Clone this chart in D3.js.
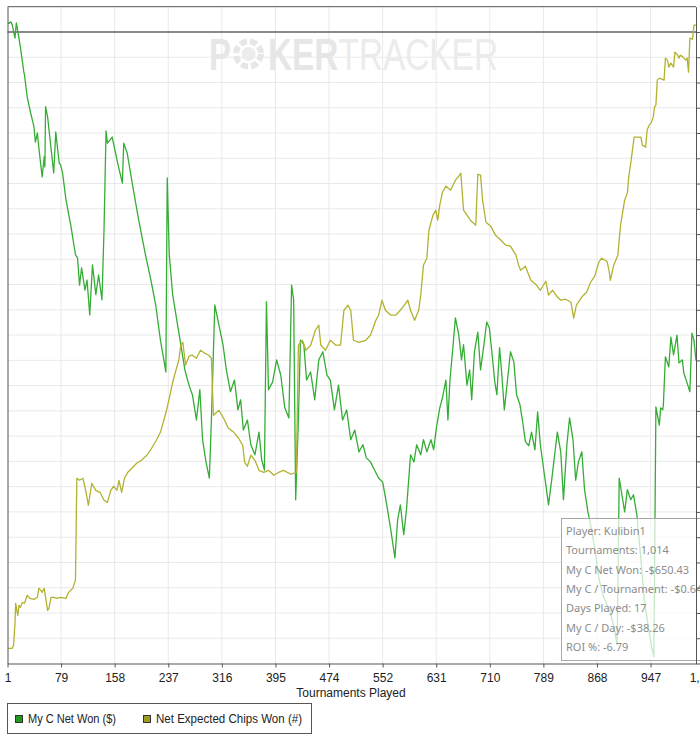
<!DOCTYPE html>
<html><head><meta charset="utf-8">
<script src="https://cdn.jsdelivr.net/npm/d3@7"></script>
<style>html,body{margin:0;padding:0;background:#fff;} svg{display:block;}</style>
</head><body>
<svg id="chart" width="700" height="737"></svg>
<script>
// ---- Data ----
const netTournament = [1,3,6,8,12,14,16,20,25,26,30,35,40,42,45,47,52,55,56,57,60,69,72,77,79,82,87,94,101,104,107,110,115,118,122,126,131,135,140,143,146,148,155,163,170,172,177,185,194,204,212,219,226,231,234,236,239,244,250,256,262,268,273,279,284,288,293,298,301,306,312,318,323,329,335,340,344,348,354,359,365,371,375,379,382,385,391,397,403,409,415,419,422,425,429,432,437,441,447,453,459,465,471,476,482,488,494,500,506,512,518,524,529,535,541,547,553,559,565,571,575,579,584,588,594,599,603,609,613,618,624,628,632,637,641,646,649,652,656,660,665,669,672,677,681,684,688,693,697,702,706,710,713,718,721,725,728,732,737,741,746,750,755,759,763,768,772,777,781,785,790,794,797,802,806,810,815,819,824,828,833,837,841,846,850,855,859,865,871,877,883,888,894,898,901,905,909,913,918,922,927,933,938,944,949,952,955,960,962,965,966,969,974,977,981,986,989,994,996,1001,1005,1008,1011,1014];
const netWon = [18,17,20,14,-12,18,2,-30,-79,-85,-129,-160,-188,-218,-200,-228,-287,-247,-267,-148,-168,-279,-198,-259,-263,-279,-332,-382,-441,-447,-501,-467,-511,-491,-560,-461,-520,-481,-530,-392,-196,-220,-208,-259,-299,-220,-239,-303,-372,-441,-491,-540,-610,-649,-673,-289,-441,-520,-570,-619,-669,-699,-718,-768,-708,-807,-851,-883,-768,-540,-580,-619,-669,-712,-689,-748,-728,-788,-768,-817,-837,-792,-847,-867,-534,-708,-693,-649,-679,-744,-764,-501,-530,-926,-768,-610,-619,-689,-673,-728,-649,-633,-679,-689,-748,-699,-768,-748,-807,-788,-831,-817,-843,-851,-867,-883,-891,-936,-986,-1041,-966,-936,-995,-946,-837,-851,-817,-837,-807,-831,-807,-827,-784,-744,-724,-689,-768,-689,-629,-566,-600,-649,-619,-699,-669,-728,-633,-594,-669,-619,-574,-586,-625,-693,-718,-625,-673,-748,-685,-633,-653,-718,-738,-772,-811,-819,-792,-827,-752,-817,-867,-906,-936,-883,-837,-792,-831,-926,-817,-764,-807,-887,-851,-831,-906,-950,-976,-1021,-1081,-1114,-1134,-1148,-1183,-1213,-883,-916,-950,-906,-926,-916,-956,-1045,-1124,-1179,-1219,-1237,-742,-778,-744,-748,-738,-643,-663,-604,-639,-600,-655,-649,-675,-695,-712,-596,-610,-650.43];

const chipsTournament = [1,8,10,12,13,16,18,20,23,26,30,34,40,45,47,50,52,55,57,60,62,65,69,74,79,87,91,97,101,103,107,112,116,120,125,131,137,143,148,153,157,162,165,169,173,178,184,191,198,206,213,220,226,231,235,240,244,248,253,256,259,263,268,273,279,285,291,297,301,304,312,319,326,334,341,347,350,354,359,365,371,378,385,393,400,407,418,426,429,435,440,447,454,459,462,469,476,484,491,496,502,506,510,518,528,535,543,547,552,557,565,572,579,585,590,594,600,606,609,613,618,621,627,631,634,637,641,646,653,660,665,668,672,677,682,690,693,697,700,705,712,719,727,734,741,749,753,756,763,771,778,785,793,797,803,809,815,822,830,834,838,843,847,853,859,865,871,875,883,886,888,893,899,903,909,913,915,918,923,933,935,940,942,945,948,951,953,955,957,960,967,969,972,974,977,981,983,987,989,991,995,999,1001,1003,1005,1009,1011,1014];
const chipsWon = [0,0,300,2480,4460,3270,4260,4060,4550,4460,5250,4950,4850,5050,5940,5740,5540,5940,5050,3760,3960,5050,5050,4950,5050,4950,5540,5940,6730,16830,16630,16830,15640,14160,16340,15640,15440,14650,14450,15640,16040,15640,16630,15440,16830,17420,17820,18320,18610,19110,19800,20590,21380,22570,23560,25050,26330,27320,28510,30000,30290,28020,28910,29010,28710,29500,29210,29010,28710,23070,23560,22770,21780,21380,20790,20100,18410,18020,19110,18610,17620,17420,17620,17130,17420,17620,17230,17420,30000,30490,29500,30000,31480,31980,30000,29500,30490,30000,30000,33460,33960,33460,30490,30290,30490,30990,32470,32970,34450,33460,32970,32970,33460,33960,34450,33460,32470,33460,34950,37920,38610,41380,42870,43360,42370,43860,45140,45740,45340,46330,46730,47030,43360,42870,42370,41880,46930,46830,44350,42170,41780,40890,40390,39900,39800,38910,37920,37420,37820,36430,36040,35440,36330,34950,35440,34850,34450,34550,34250,32670,33960,34450,34850,35240,36230,36830,38210,38610,38310,37420,36430,37920,38910,41880,44350,45050,46630,48020,50590,50590,49800,49600,51280,51780,51980,52570,53560,53760,56230,56430,56230,58410,58210,57520,57920,57520,59000,58710,58410,58710,58510,58210,58410,57020,60390,60290,61680,61680];

const xTickLabels = ["1","79","158","237","316","395","474","552","631","710","789","868","947","1,026"];
const xTickValues = xTickLabels.map((_, k) => 1 + k * 1025 / 13);
const seriesNames = ["My C Net Won ($)", "Net Expected Chips Won (#)"];
const seriesColors = ["#35ad35", "#b2b232"];
const legendColors = ["#1f9a1f", "#9c9c22"];
const tooltipLines = ["Player: Kulibin1", "Tournaments: 1,014", "My C Net Won: -$650.43",
  "My C / Tournament: -$0.64", "Days Played: 17", "My C / Day: -$38.26", "ROI %: -6.79"];
const xTitle = "Tournaments Played";

// ---- Layout ----
const L = 7.5, R = 696, T = 6.7, B = 663.5;
const svg = d3.select("#chart");
const x = d3.scaleLinear().domain([1, 1014]).range([L, R]);
const yLeft = d3.scaleLinear().domain([-1250, 50]).range([B, T]);
const yRight = d3.scaleLinear().domain([-1500, 63500]).range([B, T]);
const FONT = "'Liberation Sans', Arial, sans-serif";

svg.append("rect").attr("width", 700).attr("height", 737).attr("fill", "#fff");

// grid
const g = svg.append("g");
g.selectAll("line.h").data(d3.range(-1200, 50, 50)).join("line")
  .attr("x1", L).attr("x2", R).attr("y1", d => yLeft(d)).attr("y2", d => yLeft(d))
  .attr("stroke", "#e9e9e9").attr("stroke-width", 1);
g.selectAll("line.v").data(xTickValues.slice(1)).join("line")
  .attr("y1", T).attr("y2", B).attr("x1", d => x(d)).attr("x2", d => x(d))
  .attr("stroke", "#e9e9e9").attr("stroke-width", 1);

// watermark
const wm = svg.append("g").attr("fill", "#e6e6e6").attr("font-family", FONT).attr("font-size", 44);
wm.append("text").attr("x", 209).attr("y", 70).attr("font-weight", "bold").text("P")
  .attr("textLength", 22).attr("lengthAdjust", "spacingAndGlyphs");
wm.append("circle").attr("cx", 248.5).attr("cy", 54).attr("r", 12.5).attr("fill", "none")
  .attr("stroke", "#e6e6e6").attr("stroke-width", 6).attr("stroke-dasharray", "7 3");
wm.append("circle").attr("cx", 248.5).attr("cy", 54).attr("r", 7).attr("fill", "#ececec");
const wmText = wm.append("text").attr("x", 268).attr("y", 70)
  .attr("textLength", 230).attr("lengthAdjust", "spacingAndGlyphs");
wmText.append("tspan").attr("font-weight", "bold").text("KER");
wmText.append("tspan").attr("fill", "#ebebeb").text("TRACKER");

// zero line
svg.append("line").attr("x1", L).attr("x2", R).attr("y1", yLeft(0)).attr("y2", yLeft(0))
  .attr("stroke", "#666").attr("stroke-width", 1.6);

// clip
svg.append("clipPath").attr("id", "plot").append("rect")
  .attr("x", L).attr("y", T).attr("width", R - L).attr("height", B - T);

const lines = svg.append("g").attr("clip-path", "url(#plot)");
const netData = netTournament.map((t, i) => [t, netWon[i]]);
const chipData = chipsTournament.map((t, i) => [t, chipsWon[i]]);
lines.append("path").datum(netData)
  .attr("d", d3.line().x(d => x(d[0])).y(d => yLeft(d[1])))
  .attr("fill", "none").attr("stroke", seriesColors[0]).attr("stroke-width", 1.3).attr("stroke-linejoin", "round");
lines.append("path").datum(chipData)
  .attr("d", d3.line().x(d => x(d[0])).y(d => yRight(d[1])))
  .attr("fill", "none").attr("stroke", seriesColors[1]).attr("stroke-width", 1.3).attr("stroke-linejoin", "round");

// tooltip box
const tip = svg.append("g");
tip.append("rect").attr("x", 561.5).attr("y", 518.5).attr("width", 150).attr("height", 142)
  .attr("fill", "#fff").attr("fill-opacity", 0.72).attr("stroke", "#a8a8a8").attr("stroke-width", 1);
tip.selectAll("text").data(tooltipLines).join("text")
  .attr("x", 566).attr("y", (d, i) => 535 + i * 19.3)
  .attr("font-family", "'Noto Sans', 'Open Sans', sans-serif").attr("font-size", 11)
  .attr("fill", "#8c8c8c").text(d => d);

// axes
const axisColor = "#555";
const xAxis = svg.append("g").attr("transform", `translate(0,${B})`)
  .call(d3.axisBottom(x).tickValues(xTickValues).tickFormat((d, i) => xTickLabels[i]).tickSize(4).tickSizeOuter(0));
xAxis.selectAll("text").attr("font-family", FONT).attr("font-size", 12).attr("fill", "#222").attr("dy", "0.95em");
xAxis.selectAll("line").attr("stroke", axisColor);
xAxis.select(".domain").attr("stroke", axisColor);

const lAxis = svg.append("g").attr("transform", `translate(${L},0)`)
  .call(d3.axisLeft(yLeft).tickValues([]).tickSizeOuter(0));
lAxis.select(".domain").attr("stroke", axisColor);

const rTicks = d3.range(26).map(k => -1500 + 2500 * k);
const rAxis = svg.append("g").attr("transform", `translate(${R},0)`)
  .call(d3.axisRight(yRight).tickValues(rTicks).tickFormat("").tickSize(5).tickSizeOuter(0));
rAxis.select(".domain").attr("stroke", axisColor);
rAxis.selectAll("line").attr("stroke", axisColor);

// top border
svg.append("line").attr("x1", L).attr("x2", R).attr("y1", T).attr("y2", T).attr("stroke", axisColor);

// x title
svg.append("text").attr("x", 351).attr("y", 697).attr("text-anchor", "middle")
  .attr("font-family", FONT).attr("font-size", 12).attr("fill", "#222").text(xTitle);

// legend
const leg = svg.append("g");
leg.append("rect").attr("x", 7.5).attr("y", 703.5).attr("width", 304).attr("height", 30)
  .attr("fill", "#fff").attr("stroke", "#555");
const legX = [15.5, 143.5], legTX = [28, 156], legW = [88, 146];
seriesNames.forEach((name, i) => {
  leg.append("rect").attr("x", legX[i]).attr("y", 715.5).attr("width", 7).attr("height", 7)
    .attr("fill", legendColors[i]).attr("stroke", "#333");
  leg.append("text").attr("x", legTX[i]).attr("y", 723).attr("font-family", FONT)
    .attr("font-size", 12).attr("fill", "#222").text(name)
    .attr("textLength", legW[i]).attr("lengthAdjust", "spacingAndGlyphs");
});
</script>
</body></html>
